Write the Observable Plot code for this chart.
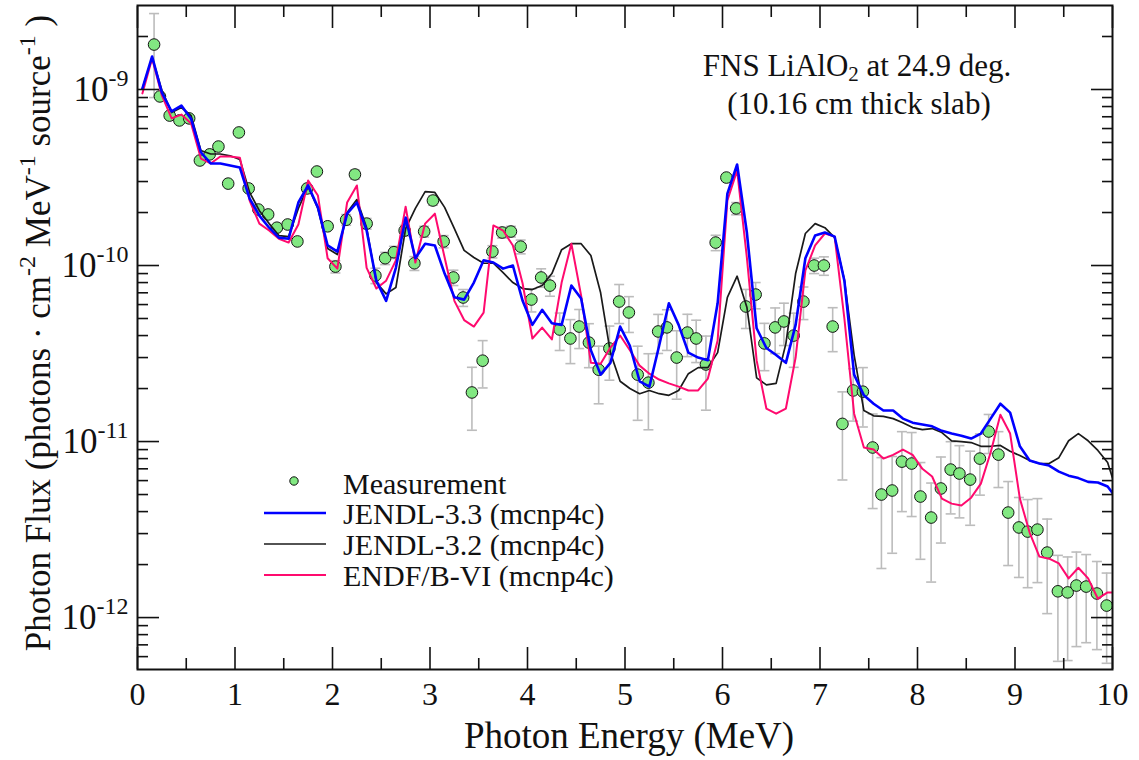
<!DOCTYPE html>
<html>
<head>
<meta charset="utf-8">
<script src="https://cdn.jsdelivr.net/npm/d3@7"></script>
<script src="https://cdn.jsdelivr.net/npm/@observablehq/plot@0.6"></script>
<style>
  html, body { margin: 0; padding: 0; background: #fff; }
  #chart svg { display: block; }
</style>
</head>
<body>
<div id="chart"></div>
<script>
// ---------------- DATA ----------------
// Measurement: photon energy (MeV), flux, relative (1-sigma) uncertainty
const measEnergy = [0.17,0.23,0.33,0.43,0.53,0.64,0.74,0.83,0.93,1.04,1.14,1.24,1.34,1.43,1.54,1.64,1.74,1.84,1.95,
  2.03,2.14,2.23,2.35,2.44,2.54,2.63,2.74,2.84,2.94,
  3.03,3.14,3.24,3.34,3.43,3.54,3.64,3.74,3.83,3.93,
  4.04,4.14,4.23,4.33,4.44,4.53,4.63,4.73,4.84,4.94,
  5.04,5.13,5.24,5.34,5.43,5.53,5.64,5.73,5.83,5.93,
  6.04,6.14,6.24,6.34,6.43,6.54,6.63,6.73,6.83,6.94,
  7.04,7.13,7.23,7.34,7.44,7.54,7.63,7.74,7.84,7.94,
  8.03,8.14,8.24,8.34,8.43,8.54,8.64,8.73,8.83,8.93,
  9.04,9.13,9.23,9.33,9.44,9.54,9.63,9.73,9.84,9.94];
const measFlux = [1.80e-9,9.13e-10,7.11e-10,6.67e-10,6.85e-10,3.95e-10,4.28e-10,4.74e-10,2.92e-10,5.70e-10,2.74e-10,2.08e-10,1.95e-10,1.64e-10,1.71e-10,1.37e-10,2.74e-10,3.42e-10,1.67e-10,
  9.86e-11,1.82e-10,3.29e-10,1.73e-10,8.77e-11,1.10e-10,1.19e-10,1.58e-10,1.03e-10,1.56e-10,
  2.34e-10,1.37e-10,8.55e-11,6.58e-11,1.90e-11,2.88e-11,1.20e-10,1.54e-10,1.56e-10,1.28e-10,
  6.41e-11,8.55e-11,7.69e-11,4.33e-11,3.85e-11,4.50e-11,3.65e-11,2.56e-11,3.38e-11,6.24e-11,
  5.41e-11,2.40e-11,2.16e-11,4.22e-11,4.45e-11,3.00e-11,4.16e-11,3.85e-11,2.74e-11,1.35e-10,
  3.16e-10,2.11e-10,5.85e-11,6.84e-11,3.61e-11,4.45e-11,4.81e-11,4.00e-11,6.24e-11,1.00e-10,
  1.00e-10,4.50e-11,1.26e-11,1.95e-11,1.92e-11,9.25e-12,5.00e-12,5.27e-12,7.69e-12,7.50e-12,
  4.87e-12,3.70e-12,5.41e-12,6.93e-12,6.58e-12,6.08e-12,8.00e-12,1.14e-11,8.43e-12,3.95e-12,
  3.25e-12,3.08e-12,3.16e-12,2.34e-12,1.41e-12,1.39e-12,1.52e-12,1.50e-12,1.37e-12,1.17e-12];
const measRelErr = [0.50,0.03,0.03,0.03,0.03,0.03,0.03,0.03,0.03,0.03,0.03,0.03,0.03,0.03,0.03,0.03,0.03,0.03,0.03,
  0.08,0.07,0.06,0.07,0.10,0.08,0.08,0.07,0.09,0.07,
  0.06,0.08,0.10,0.11,0.39,0.30,0.08,0.07,0.07,0.09,
  0.15,0.12,0.13,0.24,0.28,0.25,0.28,0.36,0.34,0.25,
  0.23,0.45,0.46,0.25,0.26,0.42,0.27,0.27,0.45,0.10,
  0.04,0.08,0.25,0.17,0.30,0.29,0.27,0.34,0.21,0.10,
  0.12,0.28,0.52,0.33,0.37,0.55,0.62,0.56,0.48,0.50,
  0.56,0.57,0.51,0.44,0.44,0.45,0.38,0.25,0.35,0.50,
  0.48,0.52,0.50,0.55,0.60,0.59,0.55,0.52,0.52,0.53];

// Calculations (mcnp4c), 0.1 MeV bins
const modelEnergy = [0.05,0.15,0.25,0.35,0.45,0.55,0.65,0.75,0.85,0.95,
  1.05,1.15,1.25,1.35,1.45,1.55,1.65,1.75,1.85,1.95,
  2.05,2.15,2.25,2.35,2.45,2.55,2.65,2.75,2.85,2.95,
  3.05,3.15,3.25,3.35,3.45,3.55,3.65,3.75,3.85,3.95,
  4.05,4.15,4.25,4.35,4.45,4.55,4.65,4.75,4.85,4.95,
  5.05,5.15,5.25,5.35,5.45,5.55,5.65,5.75,5.85,5.95,
  6.05,6.15,6.25,6.35,6.45,6.55,6.65,6.75,6.85,6.95,
  7.05,7.15,7.25,7.35,7.45,7.55,7.65,7.75,7.85,7.95,
  8.05,8.15,8.25,8.35,8.45,8.55,8.65,8.75,8.85,8.95,
  9.05,9.15,9.25,9.35,9.45,9.55,9.65,9.75,9.85,9.95,10.0];
const jendl33Flux = [1.01e-9,1.54e-9,9.6e-10,7.5e-10,8.1e-10,6.8e-10,4.4e-10,3.8e-10,3.8e-10,3.7e-10,
  3.6e-10,2.4e-10,1.92e-10,1.64e-10,1.44e-10,1.42e-10,2.28e-10,2.85e-10,2.14e-10,1.30e-10,
  1.20e-10,1.97e-10,2.28e-10,1.58e-10,8.2e-11,6.3e-11,9.7e-11,1.87e-10,1.10e-10,1.33e-10,
  1.30e-10,9.0e-11,6.6e-11,6.4e-11,8.0e-11,1.07e-10,1.04e-10,9.6e-11,1.0e-10,6.3e-11,
  4.6e-11,5.6e-11,4.7e-11,4.6e-11,7.7e-11,6.5e-11,3.3e-11,2.4e-11,2.8e-11,4.5e-11,
  3.5e-11,2.2e-11,2.05e-11,3.5e-11,6.1e-11,4.6e-11,3.2e-11,3.0e-11,2.9e-11,6.1e-11,
  2.56e-10,3.75e-10,1.54e-10,4.4e-11,3.4e-11,3.1e-11,2.8e-11,4.6e-11,1.10e-10,1.48e-10,
  1.54e-10,1.46e-10,8.2e-11,2.4e-11,1.83e-11,1.64e-11,1.50e-11,1.50e-11,1.35e-11,1.28e-11,
  1.25e-11,1.22e-11,1.15e-11,1.11e-11,1.08e-11,1.04e-11,1.11e-11,1.35e-11,1.64e-11,1.46e-11,
  9.4e-12,7.8e-12,7.5e-12,7.3e-12,6.75e-12,6.4e-12,6.2e-12,5.9e-12,5.85e-12,5.55e-12,5.1e-12];
const jendl32Flux = [1.01e-9,1.52e-9,9.9e-10,7.4e-10,7.9e-10,7.1e-10,4.5e-10,4.3e-10,4.3e-10,4.2e-10,
  4.0e-10,2.6e-10,2.05e-10,1.73e-10,1.48e-10,1.46e-10,2.11e-10,2.81e-10,2.11e-10,1.25e-10,
  1.155e-10,2.0e-10,2.37e-10,1.64e-10,8.0e-11,6.9e-11,7.5e-11,1.62e-10,2.11e-10,2.63e-10,
  2.60e-10,2.14e-10,1.62e-10,1.22e-10,1.11e-10,1.03e-10,1.03e-10,9.1e-11,8.0e-11,7.4e-11,
  7.3e-11,7.7e-11,9.0e-11,1.23e-10,1.33e-10,1.33e-10,1.14e-10,7.0e-11,3.2e-11,2.2e-11,
  2.0e-11,1.87e-11,1.95e-11,1.87e-11,1.83e-11,1.95e-11,2.43e-11,2.63e-11,2.63e-11,3.2e-11,
  6.6e-11,8.7e-11,5.8e-11,2.3e-11,2.1e-11,2.14e-11,3.6e-11,9.0e-11,1.52e-10,1.73e-10,
  1.64e-10,1.44e-10,8.3e-11,3.1e-11,1.50e-11,1.40e-11,1.39e-11,1.35e-11,1.28e-11,1.20e-11,
  1.17e-11,1.185e-11,1.125e-11,1.01e-11,1.0e-11,9.87e-12,9.4e-12,9.4e-12,9.5e-12,8.8e-12,
  8.33e-12,7.8e-12,7.5e-12,7.5e-12,8.1e-12,1.01e-11,1.11e-11,1.01e-11,8.9e-12,7.6e-12,6.2e-12];
const endfFlux = [9.5e-10,1.50e-9,9.25e-10,6.85e-10,7.2e-10,6.41e-10,4.05e-10,3.8e-10,4.16e-10,4.16e-10,
  4.1e-10,2.34e-10,1.73e-10,1.58e-10,1.42e-10,1.35e-10,1.71e-10,3.04e-10,2.5e-10,1.10e-10,
  9.6e-11,2.28e-10,2.85e-10,9.7e-11,7.4e-11,8.2e-11,1.07e-10,2.16e-10,1.04e-10,1.73e-10,
  1.97e-10,1.11e-10,6.3e-11,4.9e-11,4.5e-11,5.4e-11,1.69e-10,1.58e-10,1.30e-10,7.9e-11,
  3.85e-11,4.44e-11,3.8e-11,8.0e-11,1.33e-10,6.75e-11,2.8e-11,2.77e-11,3.42e-11,4.0e-11,
  3.3e-11,2.7e-11,2.43e-11,2.25e-11,2.14e-11,2.05e-11,1.95e-11,1.95e-11,2.28e-11,3.75e-11,
  2.34e-10,3.47e-10,1.11e-10,2.89e-11,1.54e-11,1.44e-11,1.54e-11,3.0e-11,9.37e-11,1.30e-10,
  1.52e-10,1.46e-10,5.0e-11,1.44e-11,9.25e-12,9.0e-12,8.0e-12,8.4e-12,9.0e-12,8.4e-12,
  7.0e-12,6.33e-12,4.74e-12,4.44e-12,4.33e-12,4.8e-12,5.77e-12,8.66e-12,1.42e-11,1.11e-11,
  4.74e-12,3.04e-12,2.22e-12,2.16e-12,2.03e-12,1.67e-12,1.92e-12,1.67e-12,1.28e-12,1.39e-12,1.39e-12];

const seriesNames = ["Measurement", "JENDL-3.3 (mcnp4c)", "JENDL-3.2 (mcnp4c)", "ENDF/B-VI (mcnp4c)"];

// Axis ticks
const xMajorTicks = [0,1,2,3,4,5,6,7,8,9,10];
const xMinorTicks = [0.5,1.5,2.5,3.5,4.5,5.5,6.5,7.5,8.5,9.5];
const yMajorTicks = [1e-12,1e-11,1e-10,1e-9];
const yMinorTicks = [6e-13,7e-13,8e-13,9e-13,2e-12,3e-12,4e-12,5e-12,6e-12,7e-12,8e-12,9e-12,
  2e-11,3e-11,4e-11,5e-11,6e-11,7e-11,8e-11,9e-11,2e-10,3e-10,4e-10,5e-10,6e-10,7e-10,8e-10,9e-10,2e-9];

// ---------------- CHART ----------------
const FONT = '"Liberation Serif", "Times New Roman", Times, serif';
const C = {meas: "#82e882", jendl33: "#0000ff", jendl32: "#1a1a1a", endf: "#ff0a6e", err: "#bcbcbc"};

const meas = measEnergy.map((e, i) => ({e, f: measFlux[i],
  lo: measFlux[i] * (1 - measRelErr[i]), hi: measFlux[i] * (1 + measRelErr[i])}));
const model = (vals) => modelEnergy.map((e, i) => ({e, f: vals[i]}));

const capSymbol = {draw(ctx, size) { const w = Math.sqrt(size / Math.PI); ctx.moveTo(-w, 0); ctx.lineTo(w, 0); }};
const noLabel = () => "";

const svg = Plot.plot({
  width: 1139, height: 760,
  marginLeft: 137, marginRight: 27, marginTop: 5, marginBottom: 91,
  style: {fontFamily: FONT, background: "#fff", color: "#111"},
  x: {type: "linear", domain: [0, 10]},
  y: {type: "log", domain: [5.07e-13, 3.0e-9]},
  marks: [
    // error bars
    Plot.ruleX(meas, {x: "e", y1: "lo", y2: "hi", stroke: C.err, strokeWidth: 1.6, clip: true}),
    Plot.dot(meas, {x: "e", y: "lo", symbol: capSymbol, r: 5, stroke: C.err, strokeWidth: 1.6, fill: "none", clip: true}),
    Plot.dot(meas, {x: "e", y: "hi", symbol: capSymbol, r: 5, stroke: C.err, strokeWidth: 1.6, fill: "none", clip: true}),
    // measurement points
    Plot.dot(meas, {x: "e", y: "f", r: 5.8, fill: C.meas, stroke: "#111", strokeWidth: 1}),
    // calculations
    Plot.line(model(jendl32Flux), {x: "e", y: "f", stroke: C.jendl32, strokeWidth: 1.7, clip: true}),
    Plot.line(model(endfFlux), {x: "e", y: "f", stroke: C.endf, strokeWidth: 2, clip: true}),
    Plot.line(model(jendl33Flux), {x: "e", y: "f", stroke: C.jendl33, strokeWidth: 2.6, clip: true}),
    // frame & axes (ticks inward, mirrored)
    Plot.frame({stroke: "#111", strokeWidth: 2}),
    Plot.axisX({anchor: "bottom", ticks: xMajorTicks, tickSize: -22, tickPadding: 35, tickFormat: d => String(d),
      fontSize: 32, strokeWidth: 1.6, label: null}),
    Plot.axisX({anchor: "bottom", ticks: xMinorTicks, tickSize: -11, tickFormat: noLabel, strokeWidth: 1.6, label: null}),
    Plot.axisX({anchor: "top", ticks: xMajorTicks, tickSize: -22, tickFormat: noLabel, strokeWidth: 1.6, label: null}),
    Plot.axisX({anchor: "top", ticks: xMinorTicks, tickSize: -11, tickFormat: noLabel, strokeWidth: 1.6, label: null}),
    Plot.axisY({anchor: "left", ticks: yMajorTicks, tickSize: -22, tickPadding: 31,
      tickFormat: d => String(Math.round(Math.log10(d))), fontSize: 35, strokeWidth: 1.6, label: null}),
    Plot.axisY({anchor: "left", ticks: yMinorTicks, tickSize: -11, tickFormat: noLabel, strokeWidth: 1.6, label: null}),
    Plot.axisY({anchor: "right", ticks: yMajorTicks, tickSize: -22, tickFormat: noLabel, strokeWidth: 1.6, label: null}),
    Plot.axisY({anchor: "right", ticks: yMinorTicks, tickSize: -11, tickFormat: noLabel, strokeWidth: 1.6, label: null})
  ]
});

const root = d3.select(svg);

// y tick labels as 10^n
root.selectAll('g[aria-label="y-axis tick label"] text').each(function () {
  const t = d3.select(this);
  const s = t.text();
  if (!s) return;
  t.text(null);
  t.append("tspan").text("10");
  t.append("tspan").attr("font-size", 24).attr("dy", -15).text(s);
});

// axis titles
root.append("text")
  .attr("x", 629).attr("y", 748)
  .attr("text-anchor", "middle").attr("font-family", FONT).attr("font-size", 37).attr("fill", "#111")
  .text("Photon Energy (MeV)");

const yl = root.append("text")
  .attr("transform", "translate(50,333) rotate(-90)")
  .attr("text-anchor", "middle").attr("font-family", FONT).attr("font-size", 35).attr("fill", "#111");
yl.append("tspan").text("Photon Flux (photons \u00b7 cm");
yl.append("tspan").attr("font-size", 24).attr("dy", -15).text("-2");
yl.append("tspan").attr("dy", 15).text(" MeV");
yl.append("tspan").attr("font-size", 24).attr("dy", -15).text("-1");
yl.append("tspan").attr("dy", 15).text(" source");
yl.append("tspan").attr("font-size", 24).attr("dy", -15).text("-1");
yl.append("tspan").attr("dy", 15).text(" )");

// in-plot title
const tt = root.append("text")
  .attr("x", 857).attr("y", 76)
  .attr("text-anchor", "middle").attr("font-family", FONT).attr("font-size", 31).attr("fill", "#111");
tt.append("tspan").text("FNS LiAlO");
tt.append("tspan").attr("font-size", 21).attr("dy", 5).text("2");
tt.append("tspan").attr("dy", -5).text(" at 24.9 deg.");
root.append("text")
  .attr("x", 859).attr("y", 114)
  .attr("text-anchor", "middle").attr("font-family", FONT).attr("font-size", 31).attr("fill", "#111")
  .text("(10.16 cm thick slab)");

// legend
const lg = root.append("g").attr("font-family", FONT).attr("font-size", 30).attr("fill", "#111")
  .attr("text-anchor", "start");
const legendRows = [
  {name: seriesNames[0], type: "dot", y: 484},
  {name: seriesNames[1], type: "line", color: C.jendl33, w: 2.6, y: 514},
  {name: seriesNames[2], type: "line", color: C.jendl32, w: 1.7, y: 545},
  {name: seriesNames[3], type: "line", color: C.endf, w: 2, y: 576}
];
legendRows.forEach(r => {
  if (r.type === "dot") {
    lg.append("circle").attr("cx", 294).attr("cy", r.y - 3).attr("r", 4.2)
      .attr("fill", C.meas).attr("stroke", "#111").attr("stroke-width", 1);
  } else {
    lg.append("line").attr("x1", 264).attr("x2", 326).attr("y1", r.y - 1).attr("y2", r.y - 1)
      .attr("stroke", r.color).attr("stroke-width", r.w);
  }
  lg.append("text").attr("x", 343).attr("y", r.y + 10).attr("text-anchor", "start").text(r.name);
});

document.getElementById("chart").appendChild(svg);
</script>
</body>
</html>
